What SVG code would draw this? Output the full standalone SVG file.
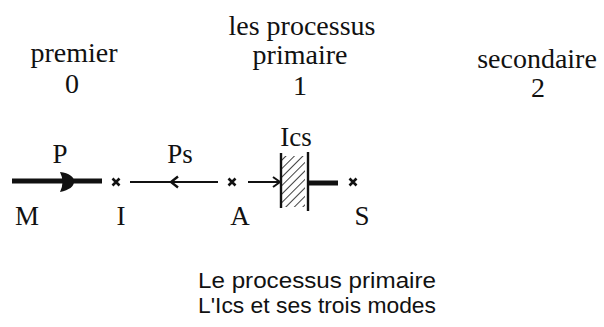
<svg xmlns="http://www.w3.org/2000/svg" width="604" height="327" viewBox="0 0 604 327">
  <style>
    .serif { font-family: "Liberation Serif", "DejaVu Serif", serif; fill: #111; text-anchor: middle; }
    .big { font-size: 28px; }
    .lbl { font-size: 27px; }
    .sans { font-family: "Liberation Sans", Arial, sans-serif; font-size: 22px; fill: #111; text-anchor: middle; }
    .cross { stroke: #111; stroke-width: 2.6; fill: none; }
    .thick { stroke: #111; stroke-width: 5; fill: none; }
    .thin { stroke: #111; stroke-width: 2; fill: none; }
  </style>
  <defs>
    <g id="xmark">
      <path class="cross" d="M-3.5,-3.5 L3.5,3.5 M3.5,-3.5 L-3.5,3.5"/>
    </g>
    <pattern id="hatch" patternUnits="userSpaceOnUse" width="6" height="6" patternTransform="rotate(45)">
      <line x1="0" y1="0" x2="0" y2="6" stroke="#111" stroke-width="1.6"/>
    </pattern>
  </defs>
  <rect width="604" height="327" fill="#fff"/>

  <!-- column headings -->
  <g id="col0">
    <text class="serif big" x="74" y="62">premier</text>
    <text class="serif big" x="72" y="93">0</text>
  </g>
  <g id="col1">
    <text class="serif big" x="302" y="35">les processus</text>
    <text class="serif big" x="300" y="64">primaire</text>
    <text class="serif big" x="300" y="95">1</text>
  </g>
  <g id="col2">
    <text class="serif big" x="537" y="68">secondaire</text>
    <text class="serif big" x="538" y="97">2</text>
  </g>

  <!-- points on the axis -->
  <g id="node-M"><text class="serif lbl" x="27" y="225">M</text></g>
  <g id="node-I">
    <use href="#xmark" x="116" y="182"/>
    <text class="serif lbl" x="121" y="225">I</text>
  </g>
  <g id="node-A">
    <use href="#xmark" x="232" y="182"/>
    <text class="serif lbl" x="240" y="225">A</text>
  </g>
  <g id="node-S">
    <use href="#xmark" x="353" y="182"/>
    <text class="serif lbl" x="362" y="225">S</text>
  </g>

  <!-- Ics barrier -->
  <g id="node-Ics">
    <text class="serif lbl" x="296" y="146">Ics</text>
    <rect x="282" y="156" width="23" height="51" fill="url(#hatch)"/>
    <line x1="281" y1="153" x2="281" y2="208" stroke="#111" stroke-width="2.4"/>
    <line x1="308" y1="152" x2="308" y2="211" stroke="#111" stroke-width="2.4"/>
  </g>

  <!-- connectors -->
  <g id="connectors">
    <!-- P : M to I -->
    <line class="thick" x1="12" y1="181" x2="102" y2="181"/>
    <path d="M60,172 Q74,174 74,181.5 Q74,189 60,192 Q65,182 60,172 Z" fill="#111"/>
    <text class="serif lbl" x="60" y="163">P</text>
    <!-- Ps : A back to I -->
    <line class="thin" x1="130" y1="182" x2="218" y2="182"/>
    <path d="M178,176.5 L171,182 L178,187.5" stroke="#111" stroke-width="2.4" fill="none"/>
    <text class="serif lbl" x="180" y="163">Ps</text>
    <!-- A towards the barrier -->
    <line class="thin" x1="248" y1="182" x2="280" y2="182"/>
    <path d="M273,177 L280,182 L273,187" stroke="#111" stroke-width="2" fill="none"/>
    <!-- stub past the barrier -->
    <line class="thick" x1="308" y1="183" x2="338" y2="183" stroke-width="4.5"/>
  </g>

  <!-- caption -->
  <g id="caption">
    <text class="sans" x="317" y="288" textLength="238" lengthAdjust="spacingAndGlyphs">Le processus primaire</text>
    <text class="sans" x="317" y="313" textLength="238" lengthAdjust="spacingAndGlyphs">L'Ics et ses trois modes</text>
  </g>
</svg>
